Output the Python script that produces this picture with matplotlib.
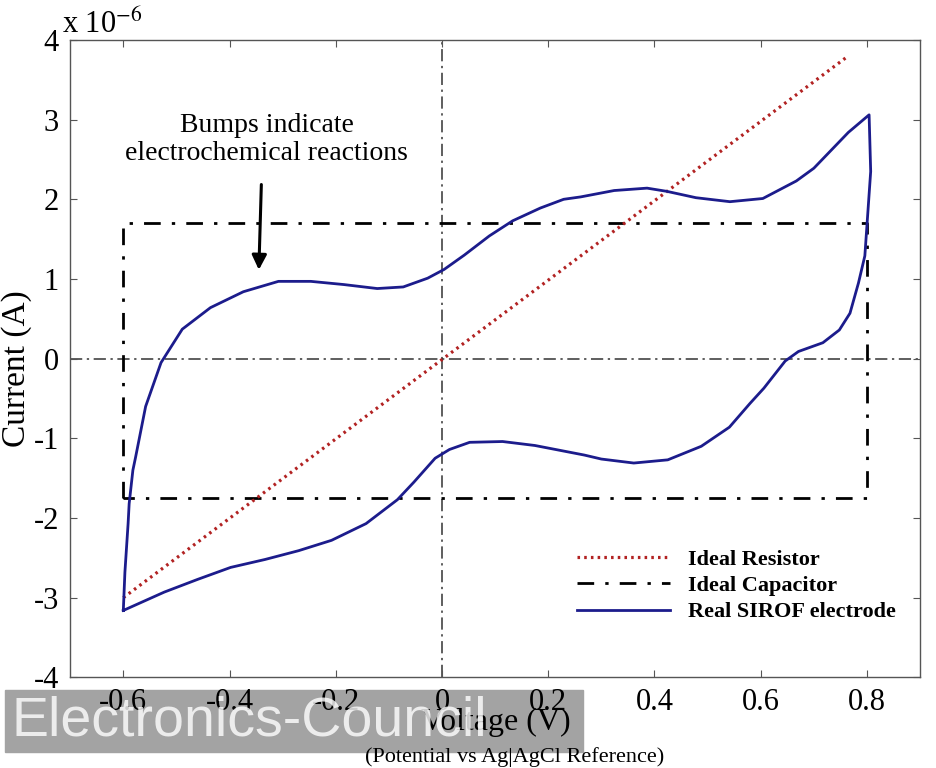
import numpy as np
import matplotlib
matplotlib.use("Agg")
import matplotlib.pyplot as plt
from matplotlib.patches import Rectangle

plt.rcParams['font.family'] = ['Liberation Serif', 'DejaVu Serif']
plt.rcParams['mathtext.fontset'] = 'stix'
plt.rcParams['axes.unicode_minus'] = False

# current values in units of 1e-6 A, voltage in V
sirof_v = [-0.600, -0.597, -0.591, -0.589, -0.582, -0.577, -0.558, -0.529, -0.489, -0.436,
           -0.374, -0.308, -0.247, -0.185, -0.122, -0.073, -0.027, 0.004, 0.042, 0.089,
           0.133, 0.185, 0.229, 0.261, 0.324, 0.386, 0.423, 0.478, 0.542, 0.604,
           0.667, 0.700, 0.765, 0.804, 0.807, 0.796, 0.784, 0.768, 0.748, 0.717,
           0.671, 0.646, 0.606, 0.580, 0.541, 0.488, 0.425, 0.361, 0.300, 0.268,
           0.175, 0.114, 0.052, 0.014, -0.013, -0.053, -0.084, -0.143, -0.208, -0.270,
           -0.333, -0.398, -0.460, -0.523, -0.600]
sirof_i = [-3.16, -2.68, -2.07, -1.82, -1.40, -1.24, -0.60, -0.05, 0.37, 0.64,
           0.84, 0.97, 0.97, 0.93, 0.88, 0.90, 1.01, 1.12, 1.30, 1.54,
           1.73, 1.89, 2.00, 2.03, 2.11, 2.14, 2.10, 2.02, 1.97, 2.01,
           2.23, 2.39, 2.84, 3.06, 2.35, 1.29, 0.95, 0.57, 0.36, 0.20,
           0.09, -0.03, -0.37, -0.56, -0.86, -1.10, -1.27, -1.31, -1.26, -1.21,
           -1.09, -1.04, -1.05, -1.14, -1.25, -1.55, -1.77, -2.07, -2.28, -2.41,
           -2.52, -2.62, -2.77, -2.93, -3.16]

resistor_v = [-0.60, 0.765]
resistor_i = [-3.0, 3.8]

cap_v = [-0.60, -0.60, 0.80, 0.80, -0.60]
cap_i = [-1.75, 1.70, 1.70, -1.75, -1.75]

xticks = [-0.6, -0.4, -0.2, 0, 0.2, 0.4, 0.6, 0.8]
xticklabels = ['-0.6', '-0.4', '-0.2', '0', '0.2', '0.4', '0.6', '0.8']
yticks = [-4, -3, -2, -1, 0, 1, 2, 3, 4]

fig = plt.figure(figsize=(9.36, 7.68), dpi=100)
ax = fig.add_axes([0.075, 0.118, 0.908, 0.83])

ax.axhline(0, color='#333333', lw=1.1, ls=(0, (8, 3, 1.5, 3)), zorder=1)
ax.axvline(0, color='#333333', lw=1.1, ls=(0, (8, 3, 1.5, 3)), zorder=1)

ax.plot(resistor_v, resistor_i, color='#b22222', lw=2.3, ls=(0, (0.8, 1.3)),
        label='Ideal Resistor', zorder=3)
ax.plot(cap_v, cap_i, color='black', lw=2.0, ls=(0, (6, 4, 1.2, 4)),
        label='Ideal Capacitor', zorder=2)
ax.plot(sirof_v, sirof_i, color='#1c1c8c', lw=2.0, label='Real SIROF electrode', zorder=4)

ax.set_xlim(-0.7, 0.9)
ax.set_ylim(-4, 4)
ax.set_xticks(xticks)
ax.set_xticklabels(xticklabels)
ax.set_yticks(yticks)
ax.tick_params(direction='in', length=5, width=0.8, color='#555555',
               top=True, right=True, labelsize=22, pad=8)
for s in ax.spines.values():
    s.set_color('#555555')
    s.set_linewidth(1.0)

ax.text(-0.01, 1.0, r'x 10$^{-6}$', transform=ax.transAxes, ha='left', va='bottom',
        fontsize=22)

ax.annotate('', xy=(-0.345, 1.08), xytext=(-0.34, 2.22),
            arrowprops=dict(arrowstyle='-|>', color='black', lw=2.2,
                            mutation_scale=22))
ax.text(-0.33, 2.75, 'Bumps indicate\nelectrochemical reactions', ha='center',
        va='center', fontsize=20, linespacing=1.2)

leg = ax.legend(loc='lower right', bbox_to_anchor=(0.995, 0.055), frameon=False,
                prop={'size': 16, 'weight': 'bold'}, handlelength=4.2,
                labelspacing=0.25, handletextpad=0.8)

fig.text(0.53, 1 - 722 / 768, 'Voltage (V)', ha='center', va='center', fontsize=23)
fig.text(0.55, 0.001, '(Potential vs Ag|AgCl Reference)', ha='center', va='bottom',
         fontsize=16)
fig.text(0.001, 0.52, 'Current (A)', rotation=90, ha='left', va='center', fontsize=24)

# watermark band
fig.patches.append(Rectangle((5 / 936, 16 / 768), 578 / 936, 62 / 768,
                             transform=fig.transFigure, color='#a3a3a3',
                             zorder=-1))
fig.text(12 / 936, 47 / 768, 'Electronics-Council', ha='left', va='center',
         fontsize=40, color='white', alpha=0.8, family='Liberation Sans', zorder=6)

fig.savefig('out.png', dpi=100)
